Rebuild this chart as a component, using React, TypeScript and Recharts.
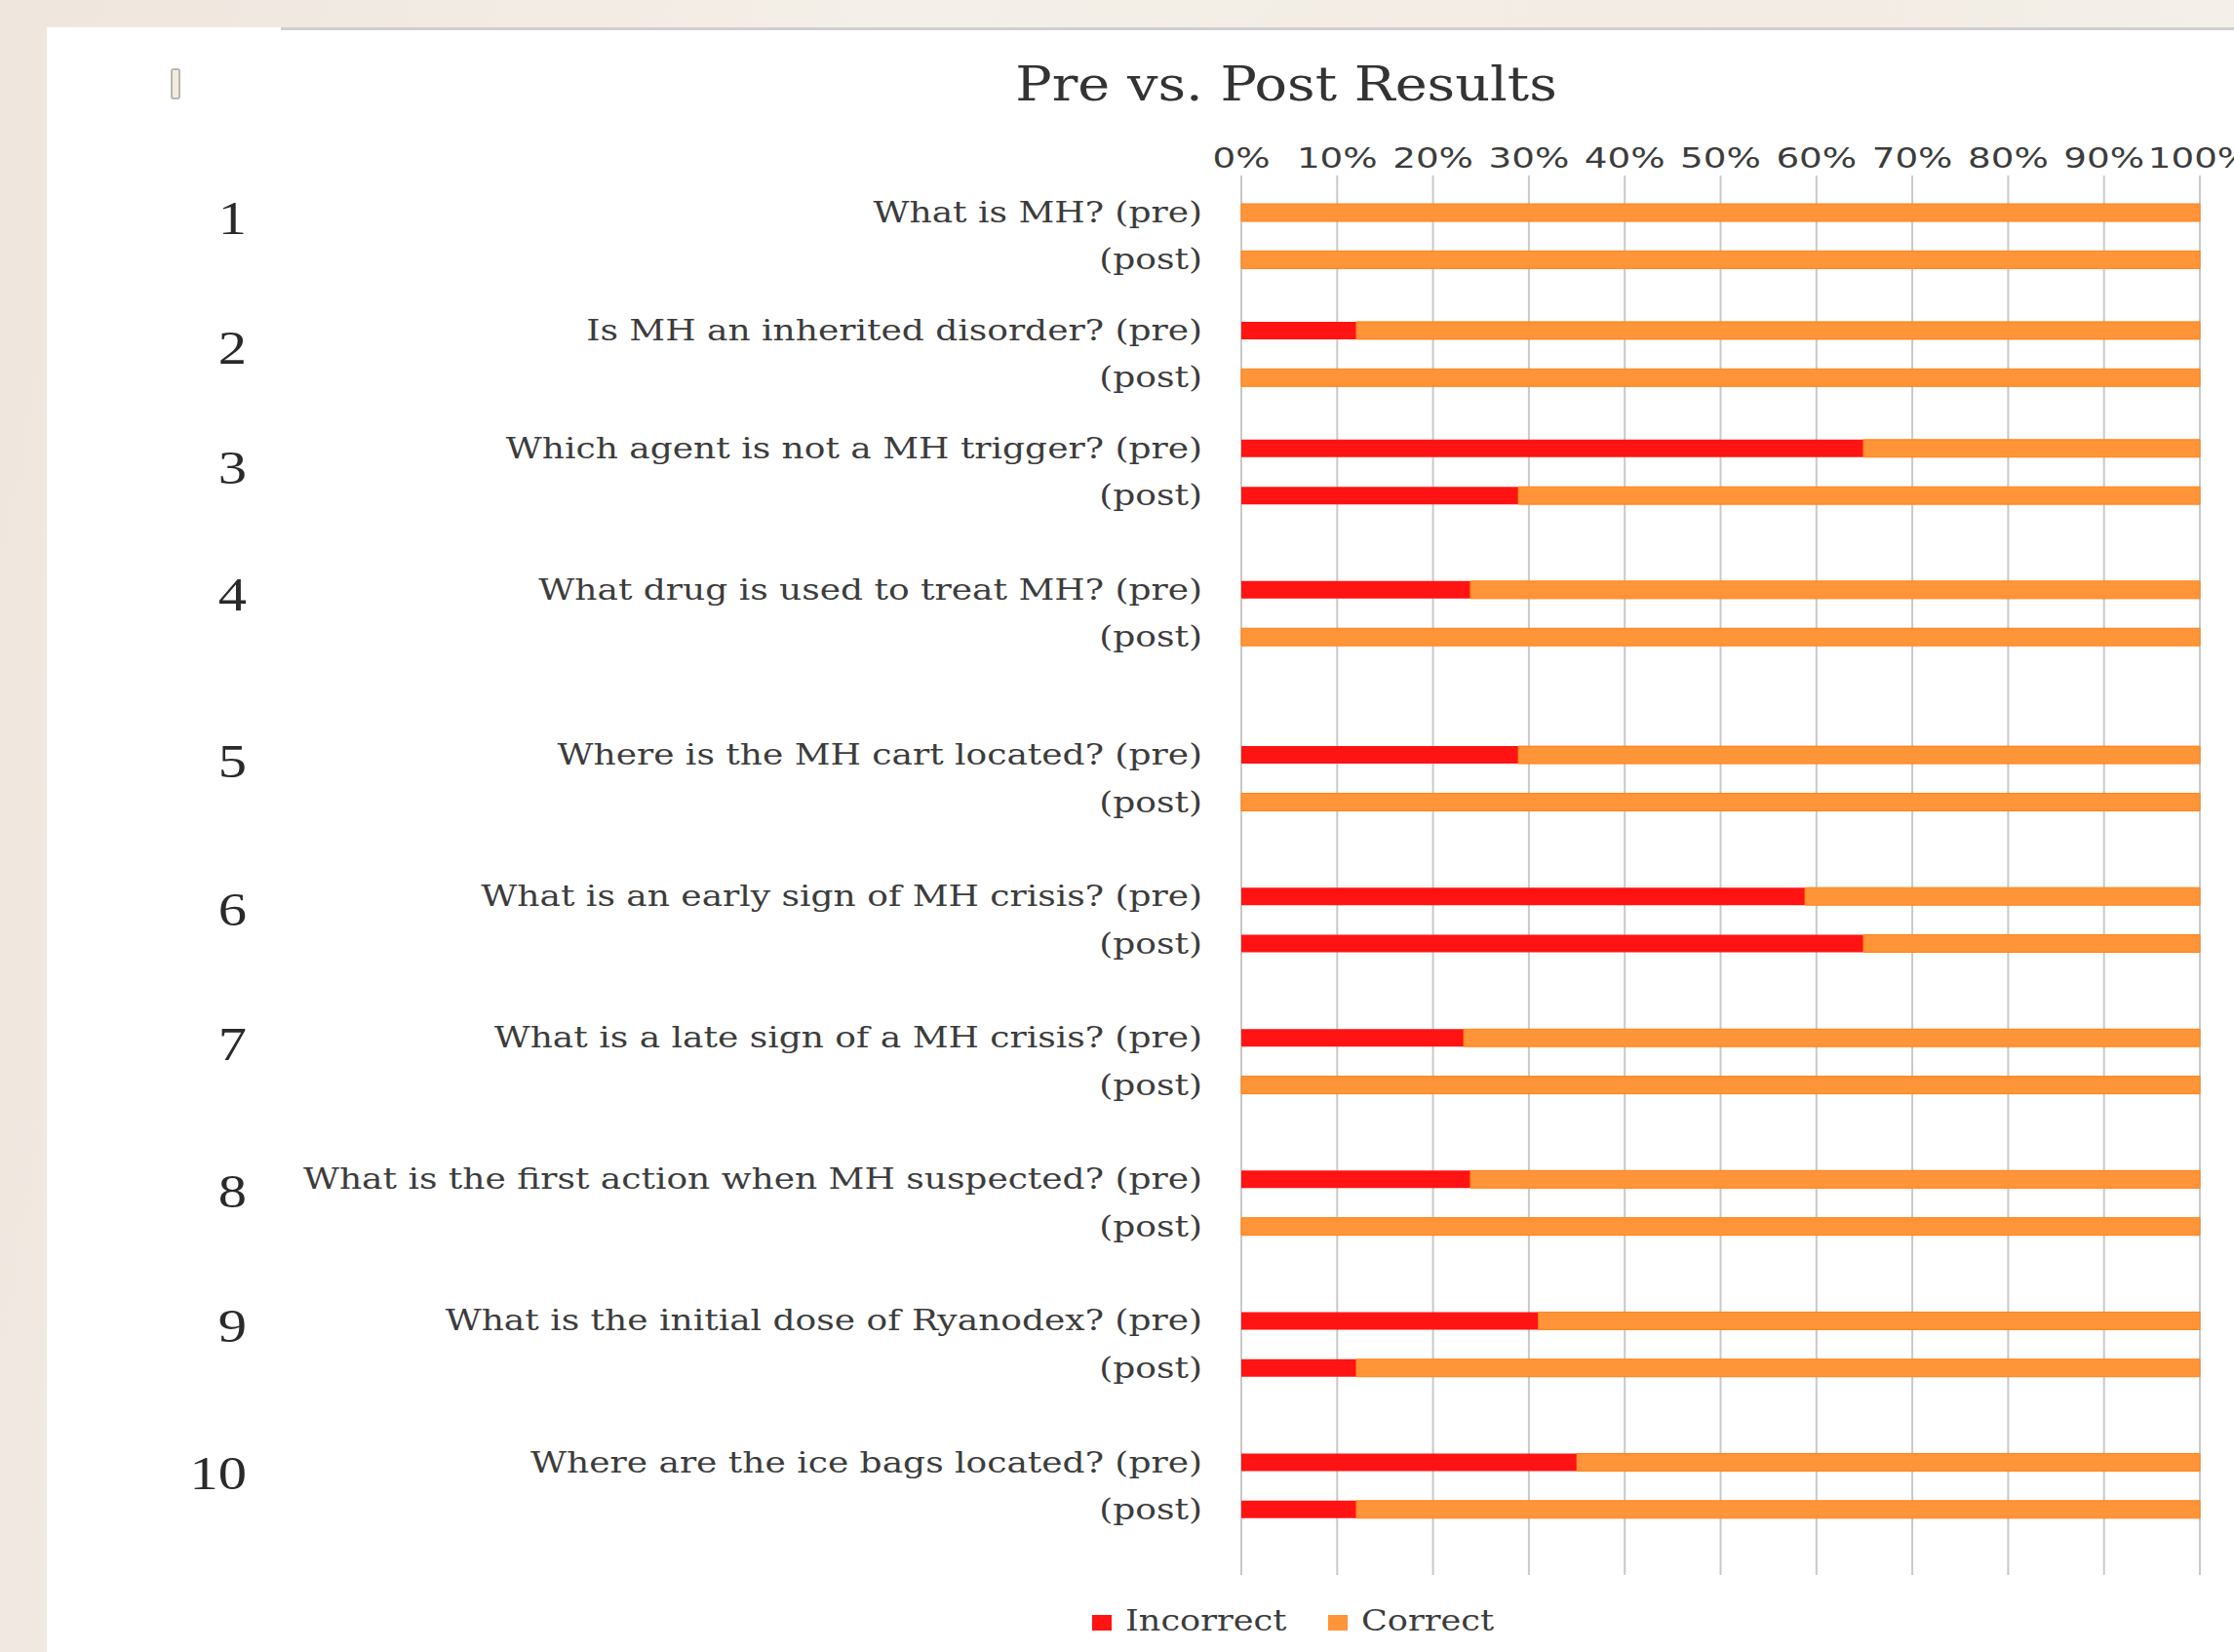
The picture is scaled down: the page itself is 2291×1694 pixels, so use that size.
import React from 'react';
import { BarChart, Bar, XAxis, YAxis, CartesianGrid, Legend } from 'recharts';

// ---------- data ----------
const questions = [
  'What is MH?',
  'Is MH an inherited disorder?',
  'Which agent is not a MH trigger?',
  'What drug is used to treat MH?',
  'Where is the MH cart located?',
  'What is an early sign of MH crisis?',
  'What is a late sign of a MH crisis?',
  'What is the first action when MH suspected?',
  'What is the initial dose of Ryanodex?',
  'Where are the ice bags located?',
];
const questionNumbers = ['1', '2', '3', '4', '5', '6', '7', '8', '9', '10'];
const incorrectPre = [0, 12.0, 64.9, 23.9, 28.9, 58.8, 23.2, 23.9, 31.0, 35.0];
const correctPre = [100, 88.0, 35.1, 76.1, 71.1, 41.2, 76.8, 76.1, 69.0, 65.0];
const incorrectPost = [0, 0, 28.9, 0, 0, 64.9, 0, 0, 12.0, 12.0];
const correctPost = [100, 100, 71.1, 100, 100, 35.1, 100, 100, 88.0, 88.0];
const seriesNames = ['Incorrect', 'Correct'];
const xTicks = [0, 10, 20, 30, 40, 50, 60, 70, 80, 90, 100];
const titleText = 'Pre vs. Post Results';

// ---------- layout (category slots) ----------
const PRE_POST_SLOTS = 2;
const GAP_SLOTS = [3, 3, 4, 5, 4, 4, 4, 4, 4];
const NUMBER_BASELINE_OFFSETS = [22, 34, 36, 21, 23, 30, 23, 29, 22, 27];

// ---------- styles ----------
const RED = '#FF1313';
const ORANGE = '#FF9538';
const ORANGE_EDGE = '#FF8014';
const TEXT = '#3C3C3C';
const GRID = '#C9C9C9';
const SERIF = '"DejaVu Serif", serif';

type Row = {
  id: string;
  kind: 'pre' | 'post' | 'gap';
  qi: number;
  label: string;
  Incorrect?: number;
  Correct?: number;
};

const rows: Row[] = [];
questions.forEach((q, i) => {
  if (i > 0) {
    for (let k = 1; k < GAP_SLOTS[i - 1]; k++) rows.push({ id: `g${i}-${k}`, kind: 'gap', qi: i, label: '' });
  }
  rows.push({ id: `q${i}-pre`, kind: 'pre', qi: i, label: `${q} (pre)`, Incorrect: incorrectPre[i], Correct: correctPre[i] });
  for (let k = 1; k < PRE_POST_SLOTS; k++) rows.push({ id: `s${i}-${k}`, kind: 'gap', qi: i, label: '' });
  rows.push({ id: `q${i}-post`, kind: 'post', qi: i, label: '(post)', Incorrect: incorrectPost[i], Correct: correctPost[i] });
});
const rowById: Record<string, Row> = {};
rows.forEach((r) => (rowById[r.id] = r));

const XTick = (props: any) => {
  const { x, y, payload } = props;
  return (
    <g transform={`translate(${x},${y})`}>
      <text x={0} y={0} transform="scale(1.33,1)" textAnchor="middle" fontSize={28} fontFamily='"DejaVu Sans", sans-serif' fill={TEXT}>
        {`${payload.value}%`}
      </text>
    </g>
  );
};

const YTick = (props: any) => {
  const { x, y, payload } = props;
  const row = rowById[payload.value];
  if (!row || row.kind === 'gap') return <g />;
  return (
    <g>
      <g transform={`translate(${x},${y + 10})`}>
        <text x={0} y={0} transform="scale(1.2,1)" textAnchor="end" fontSize={30} fontFamily={SERIF} fill={TEXT}>
          {row.label}
        </text>
      </g>
      {row.kind === 'pre' && (
        <g transform={`translate(253,${y + NUMBER_BASELINE_OFFSETS[row.qi]})`}>
          <text x={0} y={0} transform="scale(1.22,1)" textAnchor="end" fontSize={48} fontFamily='"Liberation Serif", serif' fill="#2A2A2A">
            {questionNumbers[row.qi]}
          </text>
        </g>
      )}
    </g>
  );
};

const LegendContent = (props: any) => {
  const payload = [...(props.payload || [])].sort(
    (a: any, b: any) => seriesNames.indexOf(a.value) - seriesNames.indexOf(b.value)
  );
  const starts = [10, 252];
  return (
    <svg width={440} height={59} style={{ display: 'block', overflow: 'visible' }}>
      {payload.map((p: any, i: number) => (
        <g key={p.value} transform={`translate(${starts[i] ?? 10 + i * 240},0)`}>
          <rect x={0} y={41} width={20} height={16} fill={p.color} />
          <g transform="translate(34,57)">
            <text x={0} y={0} transform="scale(1.17,1)" fontSize={30} fontFamily={SERIF} fill={TEXT}>
              {p.value}
            </text>
          </g>
        </g>
      ))}
    </svg>
  );
};

export default function App() {
  return (
    <div
      style={{
        position: 'absolute',
        left: 0,
        top: 0,
        width: 2291,
        height: 1694,
        overflow: 'hidden',
        background: 'linear-gradient(100deg, #EFE6DD 0%, #F4EFE8 35%, #F2ECE4 70%, #F5F1EB 100%)',
      }}
    >
      <div style={{ position: 'absolute', left: 48, top: 28, right: 0, bottom: 0, background: '#FFFFFF' }} />
      <div style={{ position: 'absolute', left: 288, top: 28, right: 0, height: 3, background: '#CFCFCF' }} />
      <div style={{ position: 'absolute', left: 0, top: 0 }}>
        <BarChart
          width={2291}
          height={1694}
          data={rows}
          layout="vertical"
          margin={{ top: 140, right: 35, bottom: 20, left: 0 }}
          barCategoryGap={0}
        >
          <CartesianGrid horizontal={false} vertical={true} stroke={GRID} strokeWidth={2} />
          <XAxis
            type="number"
            orientation="top"
            domain={[0, 100]}
            ticks={xTicks}
            height={40}
            axisLine={false}
            tickLine={false}
            tickSize={0}
            tickMargin={8}
            tick={<XTick />}
            interval={0}
          />
          <YAxis
            type="category"
            dataKey="id"
            width={1273}
            axisLine={false}
            tickLine={false}
            tickSize={0}
            tickMargin={40}
            interval={0}
            padding={{ top: 26, bottom: 55 }}
            tick={<YTick />}
          />
          <Legend
            verticalAlign="bottom"
            content={<LegendContent />}
            wrapperStyle={{ left: 1110, width: 440, height: 59 }}
          />
          <Bar dataKey="Incorrect" name={seriesNames[0]} stackId="a" fill={RED} barSize={18} isAnimationActive={false} />
          <Bar
            dataKey="Correct"
            name={seriesNames[1]}
            stackId="a"
            fill={ORANGE}
            stroke={ORANGE_EDGE}
            strokeWidth={1}
            barSize={18}
            isAnimationActive={false}
          />
        </BarChart>
      </div>
      <svg
        width={2291}
        height={1694}
        style={{ position: 'absolute', left: 0, top: 0, pointerEvents: 'none' }}
      >
        <rect x={176} y={71} width={8} height={30} rx={2} fill="#F2ECDF" stroke="#B9B7AE" strokeWidth={2} />
        <g transform="translate(1319,103)">
          <text x={0} y={0} transform="scale(1.16,1)" textAnchor="middle" fontSize={48} fontFamily={SERIF} fill="#333333">
            {titleText}
          </text>
        </g>
      </svg>
    </div>
  );
}
